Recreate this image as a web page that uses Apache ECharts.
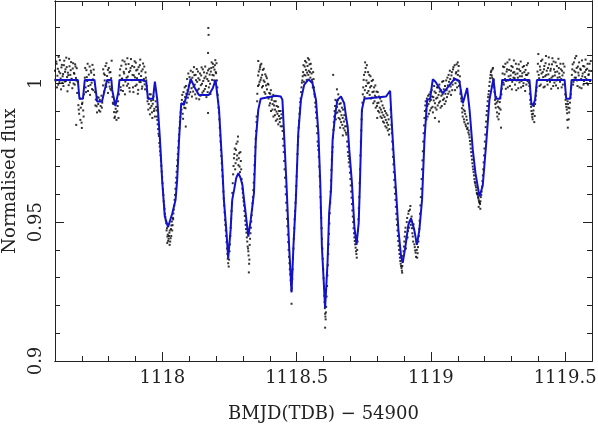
<!DOCTYPE html>
<html>
<head>
<meta charset="UTF-8">
<title>Light curve</title>
<script src="https://cdn.jsdelivr.net/npm/echarts@6/dist/echarts.min.js"></script>
</head>
<body style="margin:0">
<div id="main" style="width:598px;height:428px;"></div>
<script type="text/javascript">
// tick positions
var xMajorTicks = [1118, 1118.5, 1119, 1119.5];
var yMajorTicks = [0.9, 0.95, 1];

// fitted model (blue line)
var modelCurve = [
[1117.599,1.0012],[1117.685,1.0012],[1117.691,0.9944],[1117.704,0.9944],[1117.711,1.0012],
[1117.747,1.0012],[1117.757,0.9934],[1117.775,0.9934],[1117.794,1.0012],
[1117.810,1.0012],[1117.813,0.9976],[1117.825,0.9918],[1117.836,0.9969],[1117.840,1.0012],
[1117.924,1.0012],[1117.940,1.0005],[1117.946,0.9944],[1117.965,0.9944],[1117.972,1.0006],
[1117.981,0.9940],[1117.991,0.9796],[1117.999,0.9652],[1118.009,0.9520],[1118.021,0.9482],
[1118.037,0.9532],[1118.049,0.9580],[1118.055,0.9652],[1118.062,0.9796],[1118.070,0.9928],
[1118.080,0.9922],[1118.087,0.9916],[1118.096,0.9975],[1118.105,1.0016],[1118.121,0.9983],
[1118.136,0.9958],[1118.173,0.9958],[1118.188,0.9983],[1118.198,1.0012],[1118.211,0.9904],
[1118.223,0.9700],[1118.229,0.9580],[1118.238,0.9472],[1118.245,0.9370],[1118.254,0.9472],
[1118.260,0.9580],[1118.267,0.9616],[1118.275,0.9659],[1118.283,0.9676],[1118.291,0.9659],
[1118.298,0.9634],[1118.304,0.9580],[1118.310,0.9532],[1118.320,0.9448],[1118.329,0.9508],
[1118.341,0.9604],[1118.348,0.9796],[1118.357,0.9904],[1118.366,0.9944],[1118.422,0.9955],
[1118.441,0.9952],[1118.447,0.9940],[1118.453,0.9820],[1118.462,0.9640],[1118.472,0.9412],
[1118.481,0.9247],[1118.488,0.9412],[1118.497,0.9580],[1118.506,0.9820],[1118.516,0.9940],
[1118.528,0.9994],[1118.544,1.0014],[1118.559,1.0000],[1118.572,0.9940],[1118.581,0.9820],
[1118.588,0.9640],[1118.594,0.9412],[1118.606,0.9191],[1118.615,0.9353],[1118.621,0.9532],
[1118.628,0.9616],[1118.634,0.9796],[1118.644,0.9892],[1118.652,0.9940],[1118.665,0.9952],
[1118.677,0.9928],[1118.684,0.9880],[1118.690,0.9844],[1118.696,0.9760],[1118.706,0.9640],
[1118.715,0.9484],[1118.723,0.9418],[1118.731,0.9496],[1118.735,0.9616],[1118.739,0.9760],
[1118.743,0.9904],[1118.752,0.9944],[1118.833,0.9952],[1118.848,0.9973],[1118.855,0.9844],
[1118.864,0.9700],[1118.871,0.9598],[1118.879,0.9472],[1118.889,0.9376],[1118.895,0.9353],
[1118.905,0.9412],[1118.916,0.9490],[1118.926,0.9514],[1118.938,0.9472],[1118.948,0.9418],
[1118.957,0.9472],[1118.967,0.9580],[1118.976,0.9796],[1118.986,0.9940],[1118.997,0.9944],
[1119.007,1.0014],[1119.017,1.0005],[1119.044,0.9964],[1119.061,0.9983],[1119.088,1.0016],
[1119.106,1.0008],[1119.119,0.9928],[1119.125,0.9922],[1119.135,0.9983],[1119.144,0.9904],
[1119.156,0.9760],[1119.166,0.9676],[1119.181,0.9592],[1119.193,0.9631],[1119.206,0.9784],
[1119.218,0.9940],[1119.233,1.0016],[1119.241,0.9944],[1119.258,0.9944],[1119.266,1.0012],
[1119.367,1.0012],[1119.374,0.9929],[1119.380,0.9918],[1119.388,0.9940],[1119.395,1.0012],
[1119.498,1.0012],[1119.504,0.9944],[1119.519,0.9944],[1119.524,1.0012],[1119.598,1.0012]
];

// photometry (black dots), estimated from the figure
var observed = [
[1117.600,1.0045],[1117.603,1.0010],[1117.606,1.0070],[1117.609,1.0027],[1117.612,0.9995],[1117.615,1.0042],
[1117.618,1.0083],[1117.621,1.0017],[1117.624,1.0057],[1117.627,1.0002],[1117.630,1.0033],[1117.633,1.0065],
[1117.636,1.0006],[1117.639,1.0050],[1117.642,1.0092],[1117.645,1.0022],[1117.648,1.0038],[1117.651,0.9993],
[1117.654,1.0061],[1117.657,1.0030],[1117.660,1.0076],[1117.663,1.0013],[1117.666,1.0053],[1117.669,0.9999],
[1117.672,1.0034],[1117.675,1.0068],[1117.678,1.0019],[1117.681,1.0054],[1117.684,1.0007],
[1117.687,0.9921],[1117.690,0.9890],[1117.693,0.9945],[1117.696,0.9912],[1117.699,0.9858],[1117.702,0.9930],
[1117.705,0.9902],[1117.708,0.9960],[1117.679,0.9850],[1117.700,0.9839],
[1117.711,1.0020],[1117.714,0.9985],[1117.717,1.0047],[1117.720,1.0008],[1117.723,0.9972],[1117.726,1.0031],
[1117.729,1.0060],[1117.732,0.9994],[1117.735,1.0038],[1117.738,0.9979],[1117.741,1.0014],[1117.744,1.0049],
[1117.749,0.9968],[1117.752,0.9941],[1117.755,0.9917],[1117.758,0.9950],[1117.761,0.9925],[1117.764,0.9902],
[1117.767,0.9940],[1117.770,0.9918],[1117.773,0.9955],[1117.776,0.9930],
[1117.779,0.9992],[1117.782,1.0035],[1117.785,1.0010],[1117.788,1.0062],[1117.791,0.9987],[1117.794,1.0026],
[1117.797,1.0048],[1117.800,1.0003],[1117.803,1.0039],[1117.806,0.9980],[1117.809,1.0018],[1117.811,1.0081],
[1117.814,0.9951],[1117.817,0.9925],[1117.820,0.9896],[1117.823,0.9880],[1117.826,0.9908],[1117.829,0.9868],
[1117.832,0.9899],[1117.835,0.9935],[1117.838,0.9960],
[1117.841,1.0028],[1117.844,0.9986],[1117.847,1.0063],[1117.850,1.0017],[1117.853,0.9972],[1117.856,1.0041],
[1117.859,1.0078],[1117.862,1.0006],[1117.865,1.0052],[1117.868,0.9991],[1117.871,1.0024],[1117.874,1.0069],
[1117.877,0.9983],[1117.880,1.0045],[1117.883,1.0087],[1117.886,1.0011],[1117.889,1.0030],[1117.892,0.9968],
[1117.895,1.0058],[1117.898,1.0021],[1117.901,1.0074],[1117.904,0.9995],[1117.907,1.0049],[1117.910,0.9976],
[1117.913,1.0034],[1117.916,1.0065],[1117.919,1.0004],[1117.922,1.0043],[1117.925,0.9988],[1117.928,1.0071],
[1117.931,1.0015],[1117.934,0.9996],[1117.937,1.0039],
[1117.940,1.0010],[1117.943,0.9972],[1117.946,0.9948],[1117.949,0.9925],[1117.952,0.9960],[1117.955,0.9911],
[1117.958,0.9937],[1117.961,0.9895],[1117.964,0.9926],[1117.967,0.9952],[1117.970,0.9908],[1117.972,0.9880],
[1117.975,0.9935],[1117.978,0.9902],[1117.981,0.9868],[1117.984,0.9835],[1117.987,0.9810],[1117.990,0.9772],
[1117.993,0.9741],[1117.996,0.9703],[1117.999,0.9662],[1118.002,0.9618],[1118.005,0.9575],[1118.008,0.9548],
[1118.011,0.9519],[1118.014,0.9496],[1118.017,0.9478],[1118.020,0.9455],[1118.023,0.9440],[1118.026,0.9462],
[1118.029,0.9430],[1118.032,0.9475],[1118.035,0.9502],[1118.038,0.9489],[1118.041,0.9531],[1118.044,0.9560],
[1118.047,0.9598],[1118.050,0.9642],[1118.053,0.9681],[1118.056,0.9723],[1118.059,0.9768],[1118.062,0.9815],
[1118.065,0.9860],[1118.068,0.9895],[1118.018,0.9425],[1118.027,0.9418],[1118.033,0.9450],[1118.040,0.9510],
[1118.071,0.9905],[1118.074,0.9958],[1118.077,0.9872],[1118.080,0.9933],[1118.083,0.9985],[1118.086,0.9910],
[1118.089,0.9962],[1118.092,1.0015],[1118.095,0.9948],[1118.098,0.9991],[1118.101,1.0022],[1118.104,0.9968],
[1118.107,1.0005],[1118.110,0.9952],[1118.113,1.0040],[1118.116,0.9987],[1118.119,1.0029],[1118.122,0.9960],
[1118.125,1.0011],[1118.128,1.0051],[1118.131,0.9975],[1118.134,1.0018],[1118.137,0.9942],[1118.140,1.0035],
[1118.143,0.9993],[1118.146,1.0057],[1118.149,0.9966],[1118.152,1.0008],[1118.155,1.0039],[1118.158,0.9979],
[1118.161,1.0024],[1118.164,0.9950],[1118.167,1.0015],[1118.170,1.0046],[1118.173,0.9985],[1118.176,1.0031],
[1118.179,0.9961],[1118.182,1.0055],[1118.185,1.0012],[1118.188,1.0070],[1118.191,1.0028],[1118.194,1.0049],
[1118.197,1.0083],[1118.200,1.0036],[1118.203,1.0010],
[1118.087,0.9844],[1118.170,0.9893],[1118.171,1.0199],[1118.172,1.0174],[1118.170,1.0109],
[1118.206,0.9958],[1118.209,0.9912],[1118.212,0.9870],[1118.215,0.9812],[1118.218,0.9760],[1118.221,0.9712],
[1118.224,0.9665],[1118.227,0.9610],[1118.230,0.9560],[1118.233,0.9508],[1118.236,0.9470],[1118.239,0.9428],
[1118.242,0.9385],[1118.245,0.9352],[1118.247,0.9340],[1118.250,0.9395],[1118.253,0.9450],[1118.256,0.9512],
[1118.259,0.9568],
[1118.262,0.9640],[1118.265,0.9702],[1118.268,0.9745],[1118.271,0.9690],[1118.274,0.9760],[1118.277,0.9725],
[1118.280,0.9790],[1118.283,0.9705],[1118.286,0.9748],[1118.289,0.9680],[1118.292,0.9720],[1118.295,0.9655],
[1118.298,0.9620],[1118.301,0.9588],
[1118.304,0.9560],[1118.307,0.9522],[1118.310,0.9490],[1118.313,0.9462],[1118.316,0.9430],[1118.319,0.9405],
[1118.321,0.9380],[1118.323,0.9350],[1118.325,0.9418],[1118.328,0.9460],[1118.331,0.9502],[1118.334,0.9545],
[1118.337,0.9590],[1118.340,0.9642],[1118.343,0.9705],[1118.346,0.9770],[1118.349,0.9828],[1118.322,0.9319],
[1118.351,0.9880],[1118.353,0.9935],[1118.356,0.9990],[1118.359,1.0042],[1118.362,1.0005],[1118.365,1.0065],
[1118.368,1.0020],[1118.371,0.9985],[1118.374,1.0048],[1118.377,1.0010],[1118.380,0.9968],[1118.383,1.0032],
[1118.386,0.9992],[1118.389,1.0018],[1118.392,0.9950],[1118.395,0.9995],[1118.398,0.9965],[1118.401,0.9928],
[1118.404,0.9975],[1118.407,0.9940],[1118.410,0.9905],[1118.413,0.9958],[1118.416,0.9920],[1118.419,0.9885],
[1118.422,0.9935],[1118.425,0.9898],[1118.428,0.9870],[1118.431,0.9915],[1118.434,0.9882],[1118.437,0.9860],
[1118.440,0.9900],[1118.443,0.9875],[1118.357,1.0080],[1118.364,1.0058],
[1118.446,0.9845],[1118.449,0.9800],[1118.452,0.9752],[1118.455,0.9690],[1118.458,0.9628],[1118.461,0.9570],
[1118.464,0.9512],[1118.467,0.9455],[1118.470,0.9400],[1118.473,0.9352],[1118.476,0.9312],[1118.479,0.9275],
[1118.482,0.9262],[1118.485,0.9330],[1118.488,0.9405],[1118.491,0.9478],[1118.494,0.9540],[1118.497,0.9598],
[1118.500,0.9665],[1118.503,0.9745],[1118.481,0.9206],
[1118.506,0.9808],[1118.509,0.9865],[1118.512,0.9910],[1118.515,0.9945],[1118.518,0.9985],[1118.521,1.0010],
[1118.524,1.0040],[1118.527,1.0005],[1118.530,1.0060],[1118.533,1.0028],[1118.536,1.0075],[1118.539,1.0038],
[1118.542,1.0090],[1118.545,1.0045],[1118.548,1.0068],[1118.551,1.0020],[1118.554,1.0052],[1118.557,1.0012],
[1118.560,0.9985],[1118.563,1.0015],[1118.566,0.9960],[1118.569,0.9930],[1118.572,0.9895],[1118.575,0.9845],
[1118.578,0.9790],
[1118.581,0.9760],[1118.584,0.9700],[1118.587,0.9628],[1118.590,0.9552],[1118.593,0.9478],[1118.596,0.9405],
[1118.599,0.9330],[1118.602,0.9262],[1118.604,0.9212],[1118.606,0.9170],[1118.608,0.9150],[1118.610,0.9195],
[1118.613,0.9270],[1118.616,0.9345],[1118.619,0.9420],[1118.622,0.9495],[1118.625,0.9570],[1118.628,0.9650],
[1118.631,0.9725],[1118.606,0.9120],
[1118.634,0.9770],[1118.637,0.9832],[1118.640,0.9880],[1118.643,0.9918],[1118.646,0.9870],[1118.649,0.9935],
[1118.652,0.9895],[1118.655,0.9960],[1118.658,0.9902],[1118.661,0.9870],[1118.664,0.9928],[1118.667,0.9885],
[1118.670,0.9850],[1118.673,0.9905],[1118.676,0.9862],[1118.679,0.9830],[1118.682,0.9870],[1118.685,0.9815],
[1118.688,0.9790],[1118.691,0.9752],[1118.694,0.9715],[1118.650,0.9978],[1118.662,0.9840],[1118.672,0.9812],
[1118.636,1.0030],
[1118.697,0.9700],[1118.700,0.9655],[1118.703,0.9610],[1118.706,0.9565],[1118.709,0.9520],[1118.712,0.9478],
[1118.715,0.9445],[1118.718,0.9420],[1118.721,0.9395],[1118.724,0.9372],[1118.727,0.9430],[1118.730,0.9510],
[1118.733,0.9590],[1118.736,0.9690],[1118.739,0.9790],[1118.742,0.9870],
[1118.745,0.9930],[1118.748,0.9985],[1118.751,1.0030],[1118.754,0.9975],[1118.757,1.0055],[1118.760,1.0010],
[1118.763,0.9965],[1118.766,1.0040],[1118.769,1.0002],[1118.772,0.9958],[1118.775,1.0025],[1118.778,0.9990],
[1118.781,0.9948],[1118.784,1.0012],[1118.787,0.9970],[1118.790,0.9935],[1118.793,0.9992],[1118.796,0.9950],
[1118.799,0.9918],[1118.802,0.9968],[1118.805,0.9930],[1118.808,0.9895],[1118.811,0.9945],[1118.814,0.9905],
[1118.817,0.9875],[1118.820,0.9920],[1118.823,0.9885],[1118.826,0.9858],[1118.829,0.9900],[1118.832,0.9868],
[1118.835,0.9840],[1118.838,0.9885],[1118.841,0.9850],[1118.844,0.9815],[1118.755,1.0075],[1118.800,0.9875],
[1118.850,0.9905],[1118.853,0.9850],[1118.856,0.9790],[1118.859,0.9735],[1118.862,0.9680],[1118.865,0.9625],
[1118.868,0.9580],[1118.871,0.9530],[1118.874,0.9490],[1118.877,0.9450],[1118.880,0.9415],[1118.883,0.9385],
[1118.886,0.9360],[1118.889,0.9342],[1118.892,0.9325],[1118.895,0.9360],[1118.898,0.9395],[1118.901,0.9430],
[1118.904,0.9465],[1118.907,0.9405],[1118.910,0.9500],[1118.913,0.9445],[1118.916,0.9530],[1118.919,0.9480],
[1118.922,0.9545],[1118.925,0.9490],[1118.928,0.9520],[1118.931,0.9460],[1118.934,0.9430],[1118.937,0.9475],
[1118.940,0.9410],[1118.943,0.9390],[1118.946,0.9430],[1118.949,0.9372],[1118.952,0.9410],[1118.955,0.9450],
[1118.958,0.9505],[1118.961,0.9560],[1118.964,0.9620],[1118.967,0.9690],[1118.970,0.9755],[1118.973,0.9820],
[1118.976,0.9875],[1118.979,0.9920],[1118.893,0.9318],
[1118.982,0.9905],[1118.985,0.9945],[1118.988,0.9880],[1118.991,0.9925],[1118.994,0.9960],[1118.997,0.9902],
[1119.000,0.9940],[1119.003,0.9975],[1119.006,0.9915],[1119.009,0.9950],[1119.012,0.9990],[1119.015,0.9928],
[1119.018,0.9965],[1119.021,0.9905],[1119.024,0.9948],[1119.027,0.9985],[1119.030,0.9930],[1119.033,0.9970],
[1119.036,0.9912],[1119.039,0.9955],[1119.042,1.0005],[1119.045,0.9940],[1119.048,0.9978],[1119.051,0.9925],
[1119.054,0.9962],[1119.057,1.0010],[1119.060,0.9950],[1119.063,0.9992],[1119.066,1.0030],[1119.069,0.9970],
[1119.072,1.0015],[1119.075,0.9958],[1119.078,1.0040],[1119.081,0.9995],[1119.084,1.0058],[1119.087,1.0012],
[1119.090,0.9975],[1119.093,1.0035],[1119.096,1.0068],[1119.099,1.0010],[1119.102,1.0045],[1119.105,0.9990],
[1119.108,1.0025],[1119.111,0.9970],[1119.015,0.9875],[1119.030,0.9862],[1119.100,1.0075],
[1119.114,0.9935],[1119.117,0.9895],[1119.120,0.9920],[1119.123,0.9870],[1119.126,0.9900],[1119.129,0.9852],
[1119.132,0.9880],[1119.135,0.9835],[1119.138,0.9855],
[1119.141,0.9830],[1119.144,0.9805],[1119.147,0.9780],[1119.150,0.9752],[1119.153,0.9725],[1119.156,0.9700],
[1119.159,0.9680],[1119.162,0.9655],[1119.165,0.9640],[1119.168,0.9625],[1119.171,0.9605],[1119.174,0.9598],
[1119.177,0.9585],[1119.180,0.9572],[1119.183,0.9565],[1119.186,0.9590],[1119.189,0.9610],[1119.192,0.9648],
[1119.195,0.9690],[1119.198,0.9740],[1119.201,0.9790],[1119.204,0.9842],[1119.207,0.9885],[1119.210,0.9918],
[1119.213,0.9950],[1119.178,0.9555],[1119.184,0.9548],
[1119.216,0.9972],[1119.219,1.0005],[1119.222,1.0030],[1119.225,1.0045],[1119.228,1.0020],[1119.231,1.0055],
[1119.234,1.0010],[1119.237,0.9968],[1119.240,0.9925],[1119.243,0.9950],[1119.246,0.9895],[1119.249,0.9935],
[1119.252,0.9870],[1119.255,0.9910],[1119.258,0.9948],[1119.261,0.9840],[1119.264,0.9980],
[1119.267,1.0035],[1119.270,1.0002],[1119.273,1.0058],[1119.276,1.0015],[1119.279,0.9980],[1119.282,1.0042],
[1119.285,1.0075],[1119.288,1.0010],[1119.291,1.0048],[1119.294,0.9990],[1119.297,1.0028],[1119.300,1.0062],
[1119.303,1.0005],[1119.306,1.0038],[1119.309,1.0082],[1119.312,1.0018],[1119.315,1.0032],[1119.318,0.9975],
[1119.321,1.0052],[1119.324,1.0020],[1119.327,1.0068],[1119.330,1.0003],[1119.333,1.0044],[1119.336,0.9985],
[1119.339,1.0025],[1119.342,1.0058],[1119.345,1.0000],[1119.348,1.0040],[1119.351,0.9972],[1119.354,1.0030],
[1119.357,1.0065],[1119.360,1.0008],[1119.363,1.0036],
[1119.367,0.9990],[1119.370,0.9940],[1119.373,0.9915],[1119.376,0.9888],[1119.379,0.9870],[1119.382,0.9902],
[1119.385,0.9860],[1119.388,0.9925],[1119.391,0.9955],[1119.394,0.9985],
[1119.397,1.0042],[1119.400,1.0105],[1119.403,1.0018],[1119.406,1.0060],[1119.409,0.9995],[1119.412,1.0035],
[1119.415,1.0085],[1119.418,1.0022],[1119.421,1.0050],[1119.424,0.9988],[1119.427,1.0072],[1119.430,1.0030],
[1119.433,1.0008],[1119.436,1.0055],[1119.439,1.0093],[1119.442,1.0015],[1119.445,1.0045],[1119.448,0.9980],
[1119.451,1.0068],[1119.454,1.0025],[1119.457,1.0078],[1119.460,1.0002],[1119.463,1.0040],[1119.466,0.9992],
[1119.469,1.0062],[1119.472,1.0020],[1119.475,1.0088],[1119.478,1.0035],[1119.481,1.0005],[1119.484,1.0050],
[1119.487,0.9985],[1119.490,1.0028],[1119.493,1.0070],[1119.496,1.0012],
[1119.500,0.9960],[1119.503,0.9925],[1119.506,0.9905],[1119.509,0.9935],[1119.512,0.9912],[1119.515,0.9895],
[1119.518,0.9930],[1119.521,0.9960],[1119.510,0.9840],[1119.508,0.9868],
[1119.525,1.0030],[1119.528,1.0068],[1119.531,1.0005],[1119.534,1.0045],[1119.537,1.0090],[1119.540,1.0020],
[1119.543,1.0055],[1119.546,0.9990],[1119.549,1.0038],[1119.552,1.0075],[1119.555,1.0012],[1119.558,1.0048],
[1119.561,0.9982],[1119.564,1.0025],[1119.567,1.0062],[1119.570,1.0008],[1119.573,1.0040],[1119.576,1.0085],
[1119.579,1.0015],[1119.582,1.0052],[1119.585,0.9995],[1119.588,1.0032],[1119.591,1.0070],[1119.594,1.0010],
[1119.597,1.0044],
// interleaved exposures
[1117.6015,1.0012],[1117.6045,1.0078],[1117.6075,0.9985],[1117.6105,1.0052],[1117.6135,1.0095],[1117.6165,1.0004],
[1117.6195,1.0036],[1117.6225,0.9978],[1117.6255,1.0066],[1117.6285,1.0025],[1117.6315,0.9990],[1117.6345,1.0081],
[1117.6375,1.0041],[1117.6405,1.0008],[1117.6435,1.0058],[1117.6465,0.9971],[1117.6495,1.0029],[1117.6525,1.0088],
[1117.6555,1.0003],[1117.6585,1.0047],[1117.6615,1.0016],[1117.6645,0.9982],[1117.6675,1.0072],[1117.6705,1.0037],
[1117.6735,0.9995],[1117.6765,1.0060],[1117.6795,1.0010],[1117.6825,0.9965],
[1117.6885,0.9905],[1117.6945,0.9868],[1117.7005,0.9925],[1117.7065,0.9880],
[1117.7125,1.0055],[1117.7155,0.9968],[1117.7185,1.0022],[1117.7215,1.0070],[1117.7245,0.9990],[1117.7275,1.0012],
[1117.7305,0.9958],[1117.7335,1.0045],[1117.7365,1.0002],[1117.7395,1.0066],[1117.7425,0.9975],[1117.7455,1.0030],
[1117.7505,0.9920],[1117.7565,0.9895],[1117.7625,0.9948],[1117.7685,0.9898],[1117.7745,0.9912],
[1117.7795,1.0050],[1117.7825,0.9970],[1117.7855,1.0030],[1117.7885,0.9995],[1117.7915,1.0072],[1117.7945,1.0008],
[1117.7975,0.9965],[1117.8005,1.0055],[1117.8035,0.9988],[1117.8065,1.0040],[1117.8095,0.9975],
[1117.8155,0.9930],[1117.8215,0.9875],[1117.8275,0.9895],[1117.8335,0.9918],[1117.8365,0.9875],
[1117.8425,1.0050],[1117.8455,0.9975],[1117.8485,1.0015],[1117.8515,1.0082],[1117.8545,0.9992],[1117.8575,1.0035],
[1117.8605,0.9960],[1117.8635,1.0068],[1117.8665,1.0020],[1117.8695,1.0090],[1117.8725,0.9998],[1117.8755,1.0040],
[1117.8785,0.9970],[1117.8815,1.0055],[1117.8845,1.0012],[1117.8875,1.0062],[1117.8905,0.9985],[1117.8935,1.0028],
[1117.8965,1.0079],[1117.8995,0.9990],[1117.9025,1.0046],[1117.9055,1.0018],[1117.9085,0.9962],[1117.9115,1.0058],
[1117.9145,1.0005],[1117.9175,1.0085],[1117.9205,1.0026],[1117.9235,0.9980],[1117.9265,1.0050],[1117.9295,1.0010],
[1117.9325,1.0060],[1117.9355,0.9978],[1117.9385,1.0020],
[1117.9415,0.9990],[1117.9445,0.9935],[1117.9475,0.9905],[1117.9505,0.9945],[1117.9535,0.9888],[1117.9565,0.9960],
[1117.9595,0.9918],[1117.9625,0.9875],[1117.9655,0.9940],[1117.9685,0.9900],
[1117.9765,0.9915],[1117.9795,0.9880],[1117.9825,0.9852],[1117.9855,0.9818],[1117.9885,0.9785],[1117.9915,0.9755],
[1117.9945,0.9722],[1117.9975,0.9682],[1118.0005,0.9640],[1118.0035,0.9598],[1118.0065,0.9560],[1118.0095,0.9530],
[1118.0125,0.9505],[1118.0155,0.9470],[1118.0185,0.9448],[1118.0215,0.9432],[1118.0245,0.9450],[1118.0275,0.9470],
[1118.0305,0.9442],[1118.0335,0.9488],[1118.0365,0.9470],[1118.0395,0.9515],[1118.0425,0.9545],[1118.0455,0.9580],
[1118.0485,0.9620],[1118.0515,0.9660],[1118.0545,0.9702],[1118.0575,0.9745],[1118.0605,0.9792],[1118.0635,0.9838],
[1118.0665,0.9878],
[1118.0725,0.9940],[1118.0755,0.9890],[1118.0785,0.9968],[1118.0815,0.9912],[1118.0845,0.9950],[1118.0875,0.9990],
[1118.0905,0.9930],[1118.0935,0.9975],[1118.0965,1.0035],[1118.0995,0.9960],[1118.1025,1.0002],[1118.1055,1.0045],
[1118.1085,0.9982],[1118.1115,1.0020],[1118.1145,0.9970],[1118.1175,1.0058],[1118.1205,0.9995],[1118.1235,1.0030],
[1118.1265,0.9945],[1118.1295,1.0005],[1118.1325,1.0042],[1118.1355,0.9980],[1118.1385,1.0012],[1118.1415,0.9955],
[1118.1445,1.0028],[1118.1475,0.9998],[1118.1505,1.0050],[1118.1535,0.9972],[1118.1565,1.0018],[1118.1595,1.0060],
[1118.1625,0.9990],[1118.1655,1.0036],[1118.1685,0.9968],[1118.1715,1.0008],[1118.1745,1.0052],[1118.1775,0.9998],
[1118.1805,1.0042],[1118.1835,1.0075],[1118.1865,1.0030],[1118.1895,1.0058],[1118.1925,1.0010],[1118.1955,1.0065],
[1118.1985,1.0040],[1118.2015,1.0072],[1118.2045,0.9985],
[1118.2075,0.9935],[1118.2105,0.9895],[1118.2135,0.9840],[1118.2165,0.9790],[1118.2195,0.9738],[1118.2225,0.9688],
[1118.2255,0.9640],[1118.2285,0.9585],[1118.2315,0.9535],[1118.2345,0.9490],[1118.2375,0.9450],[1118.2405,0.9405],
[1118.2435,0.9368],[1118.2485,0.9365],[1118.2515,0.9420],[1118.2545,0.9480],[1118.2575,0.9540],
[1118.2605,0.9605],[1118.2635,0.9672],[1118.2665,0.9730],[1118.2695,0.9765],[1118.2725,0.9712],[1118.2755,0.9782],
[1118.2785,0.9740],[1118.2815,0.9808],[1118.2845,0.9730],[1118.2875,0.9700],[1118.2905,0.9752],[1118.2935,0.9690],
[1118.2965,0.9640],[1118.2995,0.9605],[1118.3025,0.9575],
[1118.3055,0.9540],[1118.3085,0.9505],[1118.3115,0.9475],[1118.3145,0.9445],[1118.3175,0.9412],[1118.3200,0.9395],
[1118.3240,0.9365],[1118.3265,0.9440],[1118.3295,0.9480],[1118.3325,0.9525],[1118.3355,0.9568],[1118.3385,0.9615],
[1118.3415,0.9672],[1118.3445,0.9738],[1118.3475,0.9800],
[1118.3505,0.9860],[1118.3535,0.9962],[1118.3565,1.0028],[1118.3595,0.9995],[1118.3625,1.0050],[1118.3655,1.0012],
[1118.3685,1.0070],[1118.3715,1.0030],[1118.3745,0.9990],[1118.3775,1.0052],[1118.3805,1.0005],[1118.3835,0.9962],
[1118.3865,1.0025],[1118.3895,0.9978],[1118.3925,0.9998],[1118.3955,0.9945],[1118.3985,0.9920],[1118.4015,0.9962],
[1118.4045,0.9900],[1118.4075,0.9948],[1118.4105,0.9925],[1118.4135,0.9880],[1118.4165,0.9935],[1118.4195,0.9905],
[1118.4225,0.9865],[1118.4255,0.9918],[1118.4285,0.9890],[1118.4315,0.9852],[1118.4345,0.9900],[1118.4375,0.9872],
[1118.4405,0.9845],[1118.4435,0.9888],
[1118.4475,0.9828],[1118.4505,0.9775],[1118.4535,0.9720],[1118.4565,0.9660],[1118.4595,0.9600],[1118.4625,0.9542],
[1118.4655,0.9485],[1118.4685,0.9428],[1118.4715,0.9375],[1118.4745,0.9330],[1118.4775,0.9290],[1118.4805,0.9255],
[1118.4835,0.9295],[1118.4865,0.9368],[1118.4895,0.9440],[1118.4925,0.9510],[1118.4955,0.9570],[1118.4985,0.9630],
[1118.5015,0.9705],[1118.5045,0.9778],
[1118.5075,0.9840],[1118.5105,0.9890],[1118.5135,0.9932],[1118.5165,0.9968],[1118.5195,1.0002],[1118.5225,1.0025],
[1118.5255,1.0065],[1118.5285,1.0030],[1118.5315,1.0080],[1118.5345,1.0048],[1118.5375,1.0012],[1118.5405,1.0062],
[1118.5435,1.0030],[1118.5465,1.0085],[1118.5495,1.0040],[1118.5525,1.0070],[1118.5555,1.0035],[1118.5585,1.0005],
[1118.5615,1.0040],[1118.5645,0.9985],[1118.5675,0.9952],[1118.5705,0.9915],[1118.5735,0.9875],[1118.5765,0.9820],
[1118.5795,0.9775],
[1118.5825,0.9735],[1118.5855,0.9665],[1118.5885,0.9590],[1118.5915,0.9515],[1118.5945,0.9440],[1118.5975,0.9368],
[1118.6005,0.9298],[1118.6030,0.9235],[1118.6050,0.9190],[1118.6070,0.9160],[1118.6090,0.9175],[1118.6115,0.9232],
[1118.6145,0.9308],[1118.6175,0.9385],[1118.6205,0.9458],[1118.6235,0.9532],[1118.6265,0.9610],[1118.6295,0.9688],
[1118.6325,0.9752],
[1118.6355,0.9805],[1118.6385,0.9860],[1118.6415,0.9900],[1118.6445,0.9940],[1118.6475,0.9892],[1118.6505,0.9915],
[1118.6535,0.9940],[1118.6565,0.9875],[1118.6595,0.9925],[1118.6625,0.9898],[1118.6655,0.9860],[1118.6685,0.9912],
[1118.6715,0.9875],[1118.6745,0.9838],[1118.6775,0.9885],[1118.6805,0.9845],[1118.6835,0.9822],[1118.6865,0.9845],
[1118.6895,0.9772],[1118.6925,0.9738],[1118.6955,0.9728],
[1118.6985,0.9678],[1118.7015,0.9632],[1118.7045,0.9588],[1118.7075,0.9542],[1118.7105,0.9500],[1118.7135,0.9460],
[1118.7165,0.9432],[1118.7195,0.9408],[1118.7225,0.9385],[1118.7255,0.9400],[1118.7285,0.9470],[1118.7315,0.9550],
[1118.7345,0.9640],[1118.7375,0.9740],[1118.7405,0.9830],[1118.7435,0.9900],
[1118.7465,0.9960],[1118.7495,1.0012],[1118.7525,0.9950],[1118.7555,1.0040],[1118.7585,0.9990],[1118.7615,1.0065],
[1118.7645,1.0000],[1118.7675,0.9972],[1118.7705,1.0030],[1118.7735,0.9985],[1118.7765,0.9945],[1118.7795,1.0008],
[1118.7825,0.9968],[1118.7855,0.9928],[1118.7885,0.9985],[1118.7915,0.9955],[1118.7945,0.9912],[1118.7975,0.9970],
[1118.8005,0.9928],[1118.8035,0.9900],[1118.8065,0.9952],[1118.8095,0.9912],[1118.8125,0.9880],[1118.8155,0.9935],
[1118.8185,0.9895],[1118.8215,0.9862],[1118.8245,0.9910],[1118.8275,0.9878],[1118.8305,0.9845],[1118.8335,0.9892],
[1118.8365,0.9858],[1118.8395,0.9830],[1118.8425,0.9870],[1118.8455,0.9835],
[1118.8515,0.9878],[1118.8545,0.9820],[1118.8575,0.9762],[1118.8605,0.9708],[1118.8635,0.9652],[1118.8665,0.9602],
[1118.8695,0.9555],[1118.8725,0.9510],[1118.8755,0.9470],[1118.8785,0.9432],[1118.8815,0.9400],[1118.8845,0.9372],
[1118.8875,0.9350],[1118.8905,0.9335],[1118.8935,0.9342],[1118.8965,0.9378],[1118.8995,0.9412],[1118.9025,0.9448],
[1118.9055,0.9480],[1118.9085,0.9440],[1118.9115,0.9515],[1118.9145,0.9468],[1118.9175,0.9540],[1118.9205,0.9502],
[1118.9235,0.9558],[1118.9265,0.9505],[1118.9295,0.9478],[1118.9325,0.9448],[1118.9355,0.9492],[1118.9385,0.9420],
[1118.9415,0.9398],[1118.9445,0.9375],[1118.9475,0.9400],[1118.9505,0.9388],[1118.9535,0.9430],[1118.9565,0.9475],
[1118.9595,0.9530],[1118.9625,0.9590],[1118.9655,0.9655],[1118.9685,0.9722],[1118.9715,0.9790],[1118.9745,0.9848],
[1118.9775,0.9900],[1118.9805,0.9935],
[1118.9835,0.9870],[1118.9865,0.9918],[1118.9895,0.9955],[1118.9925,0.9890],[1118.9955,0.9935],[1118.9985,0.9968],
[1119.0015,0.9910],[1119.0045,0.9952],[1119.0075,0.9895],[1119.0105,0.9938],[1119.0135,0.9970],[1119.0165,0.9912],
[1119.0195,0.9945],[1119.0225,0.9985],[1119.0255,0.9920],[1119.0285,0.9958],[1119.0315,0.9995],[1119.0345,0.9935],
[1119.0375,0.9975],[1119.0405,0.9918],[1119.0435,0.9960],[1119.0465,1.0008],[1119.0495,0.9945],[1119.0525,0.9990],
[1119.0555,0.9935],[1119.0585,0.9975],[1119.0615,1.0020],[1119.0645,0.9962],[1119.0675,1.0005],[1119.0705,1.0045],
[1119.0735,0.9988],[1119.0765,1.0028],[1119.0795,0.9975],[1119.0825,1.0050],[1119.0855,1.0018],[1119.0885,1.0065],
[1119.0915,1.0000],[1119.0945,1.0040],[1119.0975,0.9985],[1119.1005,1.0030],[1119.1035,1.0062],[1119.1065,1.0005],
[1119.1095,0.9962],[1119.1125,0.9945],
[1119.1155,0.9910],[1119.1185,0.9880],[1119.1215,0.9905],[1119.1245,0.9860],[1119.1275,0.9890],[1119.1305,0.9845],
[1119.1335,0.9868],[1119.1365,0.9840],[1119.1395,0.9822],
[1119.1425,0.9815],[1119.1455,0.9792],[1119.1485,0.9765],[1119.1515,0.9738],[1119.1545,0.9712],[1119.1575,0.9690],
[1119.1605,0.9668],[1119.1635,0.9645],[1119.1665,0.9632],[1119.1695,0.9615],[1119.1725,0.9602],[1119.1755,0.9590],
[1119.1785,0.9578],[1119.1815,0.9570],[1119.1845,0.9575],[1119.1875,0.9598],[1119.1905,0.9628],[1119.1935,0.9668],
[1119.1965,0.9715],[1119.1995,0.9765],[1119.2025,0.9815],[1119.2055,0.9862],[1119.2085,0.9900],[1119.2115,0.9935],
[1119.2145,0.9960],
[1119.2175,0.9990],[1119.2205,1.0018],[1119.2235,1.0040],[1119.2265,1.0028],[1119.2295,1.0050],[1119.2325,1.0015],
[1119.2355,0.9985],[1119.2385,0.9940],[1119.2415,0.9912],[1119.2445,0.9930],[1119.2475,0.9880],[1119.2505,0.9915],
[1119.2535,0.9890],[1119.2565,0.9932],[1119.2595,0.9905],[1119.2625,0.9960],[1119.2655,1.0010],
[1119.2685,1.0060],[1119.2715,0.9995],[1119.2745,1.0032],[1119.2775,1.0070],[1119.2805,1.0008],[1119.2835,1.0050],
[1119.2865,0.9985],[1119.2895,1.0025],[1119.2925,1.0085],[1119.2955,1.0015],[1119.2985,1.0045],[1119.3015,0.9978],
[1119.3045,1.0058],[1119.3075,1.0020],[1119.3105,1.0040],[1119.3135,0.9995],[1119.3165,1.0070],[1119.3195,1.0010],
[1119.3225,1.0035],[1119.3255,0.9982],[1119.3285,1.0050],[1119.3315,1.0025],[1119.3345,1.0078],[1119.3375,1.0008],
[1119.3405,1.0036],[1119.3435,0.9990],[1119.3465,1.0062],[1119.3495,1.0015],[1119.3525,1.0048],[1119.3555,0.9995],
[1119.3585,1.0030],[1119.3615,1.0072],[1119.3645,1.0002],
[1119.3685,0.9962],[1119.3715,0.9925],[1119.3745,0.9900],[1119.3775,0.9878],[1119.3805,0.9890],[1119.3835,0.9918],
[1119.3865,0.9882],[1119.3895,0.9940],[1119.3925,0.9972],
[1119.3985,1.0070],[1119.4015,1.0030],[1119.4045,0.9990],[1119.4075,1.0048],[1119.4105,1.0080],[1119.4135,1.0012],
[1119.4165,1.0040],[1119.4195,0.9985],[1119.4225,1.0062],[1119.4255,1.0025],[1119.4285,1.0098],[1119.4315,1.0045],
[1119.4345,0.9995],[1119.4375,1.0032],[1119.4405,1.0068],[1119.4435,1.0005],[1119.4465,1.0052],[1119.4495,1.0020],
[1119.4525,1.0090],[1119.4555,0.9990],[1119.4585,1.0050],[1119.4615,1.0028],[1119.4645,1.0075],[1119.4675,1.0010],
[1119.4705,1.0042],[1119.4735,0.9982],[1119.4765,1.0055],[1119.4795,1.0022],[1119.4825,1.0070],[1119.4855,1.0015],
[1119.4885,1.0045],[1119.4915,0.9995],[1119.4945,1.0038],[1119.4975,1.0060],
[1119.5015,0.9940],[1119.5045,0.9915],[1119.5075,0.9892],[1119.5105,0.9925],[1119.5135,0.9870],[1119.5165,0.9910],
[1119.5195,0.9948],[1119.5225,0.9985],
[1119.5265,1.0050],[1119.5295,0.9995],[1119.5325,1.0075],[1119.5355,1.0020],[1119.5385,1.0040],[1119.5415,1.0098],
[1119.5445,1.0010],[1119.5475,1.0060],[1119.5505,1.0028],[1119.5535,0.9985],[1119.5565,1.0052],[1119.5595,1.0015],
[1119.5625,1.0082],[1119.5655,1.0035],[1119.5685,0.9995],[1119.5715,1.0060],[1119.5745,1.0022],[1119.5775,1.0048],
[1119.5805,1.0000],[1119.5835,1.0070],[1119.5865,1.0030],[1119.5895,1.0045],[1119.5925,1.0008],[1119.5955,1.0080]
];

var font = 'DejaVu Serif';
var ink = '#222';

function plainNumber(v) { return String(v); }

function xAxisFor(pos, major) {
    var ax = {
        type: 'value', position: pos, min: 1117.6, max: 1119.6, interval: 0.1,
        axisLine: { show: true, onZero: false, lineStyle: { color: ink, width: 1 } },
        axisTick: { inside: true, length: major ? 9 : 5, lineStyle: { color: ink } },
        axisLabel: { show: false },
        splitLine: { show: false }
    };
    if (major) ax.axisTick.customValues = xMajorTicks;
    if (major && pos === 'bottom') {
        ax.axisLabel = { show: true, customValues: xMajorTicks, formatter: plainNumber,
            fontFamily: font, fontSize: 18, color: ink, margin: 8 };
        ax.name = 'BMJD(TDB) \u2212 54900';
        ax.nameLocation = 'middle';
        ax.nameGap = 44;
        ax.nameTextStyle = { fontFamily: font, fontSize: 18, color: ink };
    }
    return ax;
}

function yAxisFor(pos, major) {
    var ax = {
        type: 'value', position: pos, min: 0.9, max: 1.0296, interval: 0.01,
        axisLine: { show: true, onZero: false, lineStyle: { color: ink, width: 1 } },
        axisTick: { inside: true, length: major ? 9 : 5, lineStyle: { color: ink } },
        axisLabel: { show: false },
        splitLine: { show: false }
    };
    if (major) ax.axisTick.customValues = yMajorTicks;
    if (major && pos === 'left') {
        ax.axisLabel = { show: true, customValues: yMajorTicks, formatter: plainNumber, rotate: 90,
            fontFamily: font, fontSize: 18, color: ink, margin: 10 };
        ax.name = 'Normalised flux';
        ax.nameLocation = 'middle';
        ax.nameGap = 33;
        ax.nameTextStyle = { fontFamily: font, fontSize: 18, color: ink };
    }
    return ax;
}

var chart = echarts.init(document.getElementById('main'));
chart.setOption({
    animation: false,
    backgroundColor: '#fff',
    grid: { left: 55, right: 6, top: 1, bottom: 67, containLabel: false, outerBoundsMode: 'none' },
    xAxis: [xAxisFor('bottom', false), xAxisFor('bottom', true), xAxisFor('top', false), xAxisFor('top', true)],
    yAxis: [yAxisFor('left', false), yAxisFor('left', true), yAxisFor('right', false), yAxisFor('right', true)],
    series: [
        {
            type: 'scatter', data: observed, symbol: 'rect', symbolSize: 2,
            itemStyle: { color: '#000' }, silent: true, z: 2
        },
        {
            type: 'line', data: modelCurve, showSymbol: false, smooth: false,
            lineStyle: { color: '#1212c8', width: 2 }, silent: true, z: 3
        }
    ]
});
</script>
</body>
</html>
